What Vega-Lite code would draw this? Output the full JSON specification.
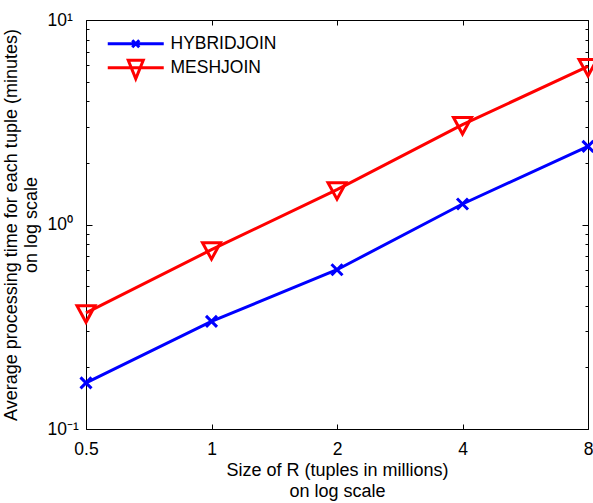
{
  "$schema": "https://vega.github.io/schema/vega-lite/v6.json",
  "width": 502,
  "height": 409,
  "autosize": {"type": "none"},
  "padding": {"left": 86, "top": 20, "right": 5, "bottom": 74},
  "background": "white",
  "config": {
    "font": "Liberation Sans",
    "view": {"stroke": "black", "strokeWidth": 1},
    "axis": {"grid": false, "domain": false, "tickColor": "black", "tickWidth": 1, "labelColor": "black", "titleColor": "black", "labelFont": "Liberation Sans", "titleFont": "Liberation Sans", "titleFontWeight": "normal"},
    "legend": {
      "title": null,
      "orient": "none",
      "legendX": 41,
      "legendY": 15,
      "padding": 0,
      "symbolSize": 100,
      "symbolStrokeWidth": 3,
      "symbolOpacity": 1,
      "symbolFillColor": "transparent",
      "labelFontSize": 17.5,
      "labelColor": "black",
      "labelFont": "Liberation Sans",
      "labelOffset": 26,
      "rowPadding": 0
    }
  },
  "data": {
    "values": [
      {"size": 0.5, "time": 0.168, "algo": "HYBRIDJOIN"},
      {"size": 1, "time": 0.336, "algo": "HYBRIDJOIN"},
      {"size": 2, "time": 0.601, "algo": "HYBRIDJOIN"},
      {"size": 4, "time": 1.26, "algo": "HYBRIDJOIN"},
      {"size": 8, "time": 2.41, "algo": "HYBRIDJOIN"},
      {"size": 0.5, "time": 0.37, "algo": "MESHJOIN"},
      {"size": 1, "time": 0.753, "algo": "MESHJOIN"},
      {"size": 2, "time": 1.48, "algo": "MESHJOIN"},
      {"size": 4, "time": 3.08, "algo": "MESHJOIN"},
      {"size": 8, "time": 5.93, "algo": "MESHJOIN"}
    ]
  },
  "resolve": {"axis": {"x": "independent", "y": "independent"}},
  "layer": [
    {
      "mark": {"type": "line", "strokeWidth": 3},
      "encoding": {
        "x": {
          "field": "size", "type": "quantitative",
          "scale": {"type": "log", "domain": [0.5, 8], "nice": false},
          "axis": {
            "orient": "bottom",
            "values": [0.5, 1, 2, 4, 8],
            "format": "~g",
            "tickSize": -5,
            "labelFontSize": 17.5,
            "labelPadding": 16,
            "labelFlush": false,
            "title": ["Size of R (tuples in millions)", "on log scale"],
            "titleFontSize": 18,
            "titleLineHeight": 21,
            "titlePadding": 4
          }
        },
        "y": {
          "field": "time", "type": "quantitative",
          "scale": {"type": "log", "domain": [0.1, 10], "nice": false},
          "axis": {
            "orient": "left",
            "values": [0.1, 0.2, 0.3, 0.4, 0.5, 0.6, 0.7, 0.8, 0.9, 1, 2, 3, 4, 5, 6, 7, 8, 9, 10],
            "labelExpr": "datum.value == 0.1 ? '10⁻¹' : datum.value == 1 ? '10⁰' : datum.value == 10 ? '10¹' : ''",
            "tickSize": {"condition": {"test": "datum.value == 0.1 || datum.value == 1 || datum.value == 10", "value": -6}, "value": -3},
            "labelAlign": "left",
            "labelBaseline": "middle",
            "labelPadding": 45,
            "labelFontSize": 17.5,
            "labelFlush": false,
            "labelOverlap": false,
            "title": ["Average processing time for each tuple (minutes)", "on log scale"],
            "titleFontSize": 18,
            "titleLineHeight": 20,
            "titlePadding": 4
          }
        },
        "color": {
          "field": "algo", "type": "nominal",
          "scale": {"domain": ["HYBRIDJOIN", "MESHJOIN"], "range": ["#0000ff", "#ff0000"]}
        }
      }
    },
    {
      "transform": [{"filter": "datum.algo === 'HYBRIDJOIN'"}],
      "mark": {"type": "point", "filled": false, "strokeWidth": 3, "size": 100, "opacity": 1, "shape": "M-1.1,-1.1L1.1,1.1M-1.1,1.1L1.1,-1.1"},
      "encoding": {
        "x": {"field": "size", "type": "quantitative", "scale": {"type": "log", "domain": [0.5, 8], "nice": false}, "axis": null},
        "y": {"field": "time", "type": "quantitative", "scale": {"type": "log", "domain": [0.1, 10], "nice": false}, "axis": null},
        "color": {"field": "algo", "type": "nominal", "scale": {"domain": ["HYBRIDJOIN", "MESHJOIN"], "range": ["#0000ff", "#ff0000"]}}
      }
    },
    {
      "transform": [{"filter": "datum.algo === 'MESHJOIN'"}],
      "mark": {"type": "point", "filled": false, "strokeWidth": 3, "size": 100, "opacity": 1, "shape": "M-1.8,-1.4L1.8,-1.4L0,1.9Z"},
      "encoding": {
        "x": {"field": "size", "type": "quantitative", "scale": {"type": "log", "domain": [0.5, 8], "nice": false}, "axis": null},
        "y": {"field": "time", "type": "quantitative", "scale": {"type": "log", "domain": [0.1, 10], "nice": false}, "axis": null},
        "color": {"field": "algo", "type": "nominal", "scale": {"domain": ["HYBRIDJOIN", "MESHJOIN"], "range": ["#0000ff", "#ff0000"]}}
      }
    },
    {
      "mark": {"type": "point", "filled": false, "strokeWidth": 3, "size": 100, "opacity": 0},
      "encoding": {
        "x": {
          "field": "size", "type": "quantitative",
          "scale": {"type": "log", "domain": [0.5, 8], "nice": false},
          "axis": {"orient": "top", "values": [0.5, 1, 2, 4, 8], "labels": false, "tickSize": -5, "title": null}
        },
        "y": {
          "field": "time", "type": "quantitative",
          "scale": {"type": "log", "domain": [0.1, 10], "nice": false},
          "axis": {
            "orient": "right",
            "values": [0.1, 0.2, 0.3, 0.4, 0.5, 0.6, 0.7, 0.8, 0.9, 1, 2, 3, 4, 5, 6, 7, 8, 9, 10],
            "labels": false,
            "tickSize": {"condition": {"test": "datum.value == 0.1 || datum.value == 1 || datum.value == 10", "value": -6}, "value": -3},
            "title": null
          }
        },
        "color": {"field": "algo", "type": "nominal", "scale": {"domain": ["HYBRIDJOIN", "MESHJOIN"], "range": ["#0000ff", "#ff0000"]}},
        "shape": {
          "field": "algo", "type": "nominal",
          "scale": {"domain": ["HYBRIDJOIN", "MESHJOIN"], "range": ["M-5.6,0H5.6M-0.7,-0.7L0.7,0.7M-0.7,0.7L0.7,-0.7", "M-5.6,0H5.6M-1.5,-1.5L1.5,-1.5L0,2.2Z"]}
        }
      }
    }
  ]
}
